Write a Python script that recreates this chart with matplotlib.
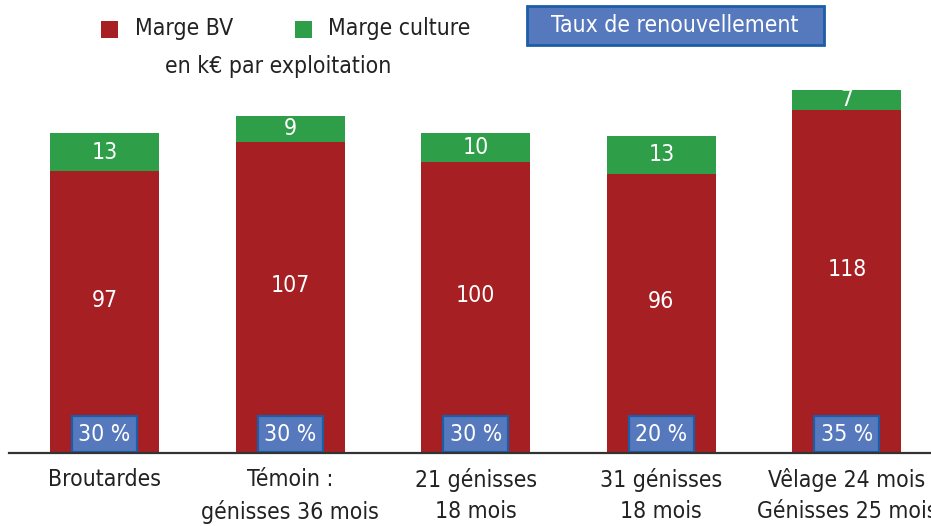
import matplotlib
matplotlib.use("Agg")
import matplotlib.pyplot as plt
from matplotlib.patches import Rectangle

categories = ["Broutardes", "Témoin :\ngénisses 36 mois", "21 génisses\n18 mois",
              "31 génisses\n18 mois", "Vêlage 24 mois\nGénisses 25 mois"]
marge_bv = [97, 107, 100, 96, 118]
marge_culture = [13, 9, 10, 13, 7]
taux = ["30 %", "30 %", "30 %", "20 %", "35 %"]

RED = "#A51F23"
GREEN = "#2E9E48"
BLUE = "#5679BD"
BLUE_EDGE = "#1D5DA8"
TXT = "#222222"
plt.rcParams["font.family"] = ["DejaVu Sans"]
plt.rcParams["font.stretch"] = "condensed"
FS = 16.5

W, H = 931, 526
fig = plt.figure(figsize=(W / 100, H / 100), dpi=100)
ax = fig.add_axes([9 / W, 73 / H, 922 / W, 378 / H])
x = list(range(len(categories)))
bw = 0.587
ax.bar(x, marge_bv, width=bw, color=RED, zorder=2)
ax.bar(x, marge_culture, width=bw, bottom=marge_bv, color=GREEN, zorder=2)
ax.set_xlim(-0.5146, 4.453)
ax.set_ylim(0, 130)
for s in ["top", "right", "left"]:
    ax.spines[s].set_visible(False)
ax.spines["bottom"].set_color("#333333")
ax.spines["bottom"].set_linewidth(1.6)
ax.spines["bottom"].set_zorder(5)
ax.set_yticks([])
ax.set_xticks(x)
ax.set_xticklabels(categories, fontsize=FS, color=TXT, linespacing=1.45, fontstretch="condensed")
ax.tick_params(axis="x", length=0, pad=11)

for i in x:
    ax.text(i, marge_bv[i] / 2 + 4, str(marge_bv[i]), ha="center", va="center",
            color="white", fontsize=FS, zorder=3)
    ax.text(i, marge_bv[i] + marge_culture[i] / 2, str(marge_culture[i]), ha="center",
            va="center", color="white", fontsize=FS, zorder=3)
    ax.text(i, 6.5, taux[i], ha="center", va="center", color="white", fontsize=FS, zorder=4,
            bbox=dict(boxstyle="square,pad=0.28", facecolor=BLUE, edgecolor=BLUE_EDGE, linewidth=1.6))

# legend
fig.patches.append(Rectangle((101 / W, 1 - 38 / H), 17 / W, 17 / H, transform=fig.transFigure,
                             facecolor=RED, edgecolor="none"))
fig.text(135 / W, 1 - 29 / H, "Marge BV", fontsize=FS, color=TXT, va="center", ha="left")
fig.patches.append(Rectangle((295 / W, 1 - 38 / H), 17 / W, 17 / H, transform=fig.transFigure,
                             facecolor=GREEN, edgecolor="none"))
fig.text(328 / W, 1 - 29 / H, "Marge culture", fontsize=FS, color=TXT, va="center", ha="left")
fig.text(278 / W, 1 - 67 / H, "en k€ par exploitation", fontsize=FS, color=TXT, va="center", ha="center")

fig.patches.append(Rectangle((527 / W, 1 - 45 / H), 297 / W, 39 / H, transform=fig.transFigure,
                             facecolor=BLUE, edgecolor=BLUE_EDGE, linewidth=2))
fig.text(675 / W, 1 - 26 / H, "Taux de renouvellement", fontsize=FS, color="white",
         va="center", ha="center")

fig.savefig("out.png", dpi=100)
